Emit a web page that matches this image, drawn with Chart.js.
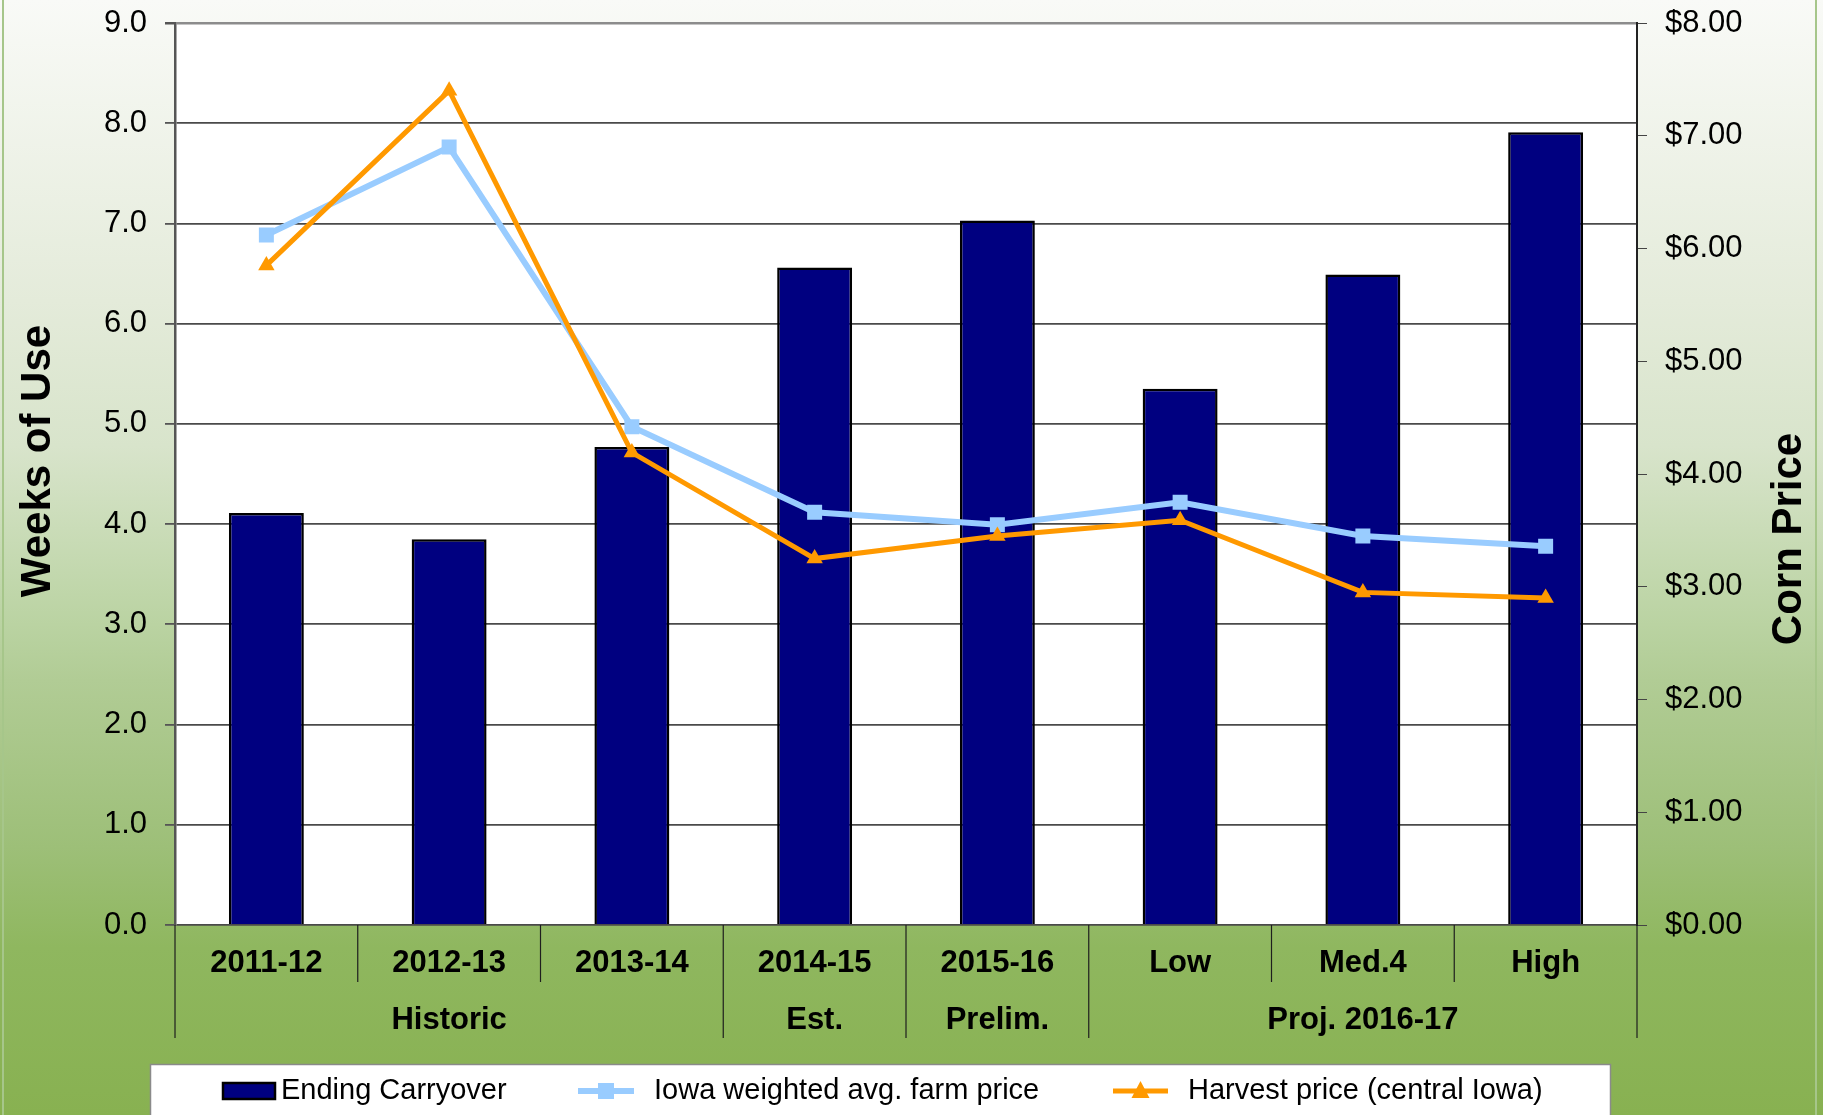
<!DOCTYPE html>
<html>
<head>
<meta charset="utf-8">
<title>Ending Carryover and Corn Price</title>
<script src="https://cdn.jsdelivr.net/npm/chart.js@4.4.1/dist/chart.umd.min.js"></script>
<style>
    html, body {
        margin: 0;
        padding: 0;
    }
    #slide {
        position: relative;
        width: 1823px;
        height: 1115px;
        overflow: hidden;
        background: linear-gradient(to bottom, #f9faf7 0%, #e4ebda 27%, #d8e4cb 40%, #bad3a2 56%, #b1cc95 61%, #9dbf78 76%, #8fb75f 85%, #88b151 100%);
    }
    #edge {
        position: absolute;
        left: 2px;
        top: 0;
        width: 1815px;
        height: 1115px;
        border-left: 2px solid #a6c68a;
        border-right: 2px solid #a6c68a;
        box-sizing: border-box;
    }
    #chart {
        position: absolute;
        left: 0;
        top: 0;
    }
</style>
</head>
<body>
<div id="slide">
    <div id="edge"></div>
    <canvas id="chart" width="1823" height="1115"></canvas>
</div>
<script>
const categories = ['2011-12', '2012-13', '2013-14', '2014-15', '2015-16', 'Low', 'Med.4', 'High'];
const groupLabels = ['', 'Historic', '', 'Est.', 'Prelim.', '', 'Proj. 2016-17', ''];

// weeks of use (left axis)
const endingCarryover = [4.11, 3.85, 4.77, 6.56, 7.03, 5.35, 6.49, 7.91];
// $ per bushel (right axis)
const iowaFarmPrice = [6.12, 6.90, 4.42, 3.66, 3.55, 3.75, 3.45, 3.36];
const harvestPrice = [5.85, 7.40, 4.19, 3.25, 3.45, 3.59, 2.95, 2.90];

const weeksMin = 0, weeksMax = 9;
const priceMin = 0, priceMax = 8;

const seriesNames = ['Ending Carryover', 'Iowa weighted avg. farm price', 'Harvest price (central Iowa)'];

const FONT = "'Liberation Sans', Arial, sans-serif";
Chart.defaults.font.family = FONT;
Chart.defaults.color = '#000';

// white plot background
const plotBackground = {
    id: 'plotBackground',
    beforeDraw(chart) {
        const { ctx, chartArea } = chart;
        ctx.save();
        ctx.fillStyle = '#fff';
        ctx.fillRect(chartArea.left, chartArea.top, chartArea.right - chartArea.left, chartArea.bottom - chartArea.top);
        ctx.restore();
    }
};

// category separators under the axis, long ones mark the groups
const categoryDividers = {
    id: 'categoryDividers',
    afterDraw(chart) {
        const { ctx, chartArea } = chart;
        const x = chart.scales.x;
        const groupEdges = [0, 3, 4, 5, 8];
        ctx.save();
        ctx.strokeStyle = '#1e1e1e';
        ctx.lineWidth = 1.2;
        for (let i = 0; i <= categories.length; i++) {
            let px;
            if (i === 0) px = chartArea.left;
            else if (i === categories.length) px = chartArea.right;
            else px = (x.getPixelForValue(i - 1) + x.getPixelForValue(i)) / 2;
            const len = groupEdges.includes(i) ? 113 : 57;
            ctx.beginPath();
            ctx.moveTo(px, chartArea.bottom);
            ctx.lineTo(px, chartArea.bottom + len);
            ctx.stroke();
        }
        ctx.restore();
    }
};

// both axis titles read bottom to top
const axisTitles = {
    id: 'axisTitles',
    afterDraw(chart) {
        const { ctx } = chart;
        const titles = [
            { text: 'Weeks of Use', x: 38, y: 461 },
            { text: 'Corn Price', x: 1789, y: 539 }
        ];
        ctx.save();
        ctx.fillStyle = '#000';
        ctx.font = 'bold 42px ' + FONT;
        ctx.textAlign = 'center';
        ctx.textBaseline = 'middle';
        titles.forEach(t => {
            ctx.save();
            ctx.translate(t.x, t.y);
            ctx.rotate(-Math.PI / 2);
            ctx.fillText(t.text, 0, 0);
            ctx.restore();
        });
        ctx.restore();
    }
};

// boxed legend at the bottom
const boxedLegend = {
    id: 'boxedLegend',
    afterDraw(chart) {
        const { ctx } = chart;
        const midY = 1091;
        ctx.save();
        ctx.fillStyle = '#fff';
        ctx.strokeStyle = '#8a8a8a';
        ctx.lineWidth = 1.5;
        ctx.fillRect(150.5, 1064.5, 1460, 70);
        ctx.strokeRect(150.5, 1064.5, 1460, 70);

        ctx.font = '29px ' + FONT;
        ctx.textAlign = 'left';
        ctx.textBaseline = 'middle';

        // bar swatch
        ctx.fillStyle = '#000080';
        ctx.fillRect(223, 1083, 52, 16);
        ctx.strokeStyle = '#000';
        ctx.lineWidth = 2.5;
        ctx.strokeRect(223, 1083, 52, 16);
        ctx.fillStyle = '#000';
        ctx.fillText(seriesNames[0], 281, midY);

        // blue line with square
        ctx.strokeStyle = '#99ccff';
        ctx.lineWidth = 6;
        ctx.beginPath();
        ctx.moveTo(578, midY);
        ctx.lineTo(634, midY);
        ctx.stroke();
        ctx.fillStyle = '#99ccff';
        ctx.fillRect(598, midY - 8, 16, 16);
        ctx.fillStyle = '#000';
        ctx.fillText(seriesNames[1], 654, midY);

        // orange line with triangle
        ctx.strokeStyle = '#ff9900';
        ctx.lineWidth = 5;
        ctx.beginPath();
        ctx.moveTo(1113, midY);
        ctx.lineTo(1168, midY);
        ctx.stroke();
        ctx.fillStyle = '#ff9900';
        ctx.beginPath();
        ctx.moveTo(1140.5, midY - 10);
        ctx.lineTo(1149.5, midY + 7);
        ctx.lineTo(1131.5, midY + 7);
        ctx.closePath();
        ctx.fill();
        ctx.fillStyle = '#000';
        ctx.fillText(seriesNames[2], 1188, midY);
        ctx.restore();
    }
};

// fixed axis sizes so the plot sits where it does in the slide
function fixVertical(width) {
    return (scale) => {
        scale.width = width;
        scale.paddingTop = 0;
        scale.paddingBottom = 0;
    };
}

const ctx = document.getElementById('chart').getContext('2d');
const chart = new Chart(ctx, {
    type: 'bar',
    data: {
        labels: categories.map((c, i) => [c, groupLabels[i]]),
        datasets: [
            {
                type: 'bar',
                label: seriesNames[0],
                data: endingCarryover,
                yAxisID: 'y',
                backgroundColor: '#000080',
                borderColor: '#000',
                borderWidth: 2.5,
                categoryPercentage: 1,
                barPercentage: 0.41,
                order: 3
            },
            {
                type: 'line',
                label: seriesNames[1],
                data: iowaFarmPrice,
                yAxisID: 'y1',
                borderColor: '#99ccff',
                borderWidth: 6,
                pointStyle: 'rect',
                pointRadius: 10.6,
                pointBackgroundColor: '#99ccff',
                pointBorderWidth: 0,
                tension: 0,
                order: 2
            },
            {
                type: 'line',
                label: seriesNames[2],
                data: harvestPrice,
                yAxisID: 'y1',
                borderColor: '#ff9900',
                borderWidth: 5,
                pointStyle: 'triangle',
                pointRadius: 9.5,
                pointBackgroundColor: '#ff9900',
                pointBorderWidth: 0,
                tension: 0,
                order: 1
            }
        ]
    },
    options: {
        responsive: false,
        animation: false,
        devicePixelRatio: 1,
        layout: {
            padding: { top: 23, left: 0, right: 0, bottom: 0 }
        },
        plugins: {
            legend: { display: false },
            tooltip: { enabled: false }
        },
        scales: {
            x: {
                offset: true,
                grid: { display: false, drawTicks: false },
                border: { display: false },
                ticks: {
                    autoSkip: false,
                    maxRotation: 0,
                    padding: 9.5,
                    color: '#000',
                    font: { size: 31, weight: 'bold', lineHeight: 1.84 }
                },
                afterFit: (scale) => {
                    scale.height = 190;
                    scale.paddingLeft = 0;
                    scale.paddingRight = 0;
                }
            },
            y: {
                position: 'left',
                min: weeksMin,
                max: weeksMax,
                ticks: {
                    stepSize: 1,
                    padding: 18,
                    color: '#000',
                    font: { size: 31 },
                    callback: (v) => v.toFixed(1)
                },
                grid: {
                    color: (c) => (c.tick && c.tick.value === weeksMax ? '#8c8c8c' : '#4a4a4a'),
                    lineWidth: (c) => (c.tick && c.tick.value === weeksMax ? 2.5 : 1.8),
                    tickLength: 10,
                    tickColor: '#555'
                },
                border: { color: '#555', width: 2.5 },
                afterFit: fixVertical(175)
            },
            y1: {
                position: 'right',
                min: priceMin,
                max: priceMax,
                ticks: {
                    stepSize: 1,
                    padding: 18,
                    color: '#000',
                    font: { size: 31 },
                    callback: (v) => '$' + v.toFixed(2)
                },
                grid: {
                    drawOnChartArea: false,
                    tickLength: 10,
                    tickColor: '#444'
                },
                border: { color: '#222', width: 2 },
                afterFit: fixVertical(186)
            }
        }
    },
    plugins: [plotBackground, categoryDividers, axisTitles, boxedLegend]
});
</script>
</body>
</html>
